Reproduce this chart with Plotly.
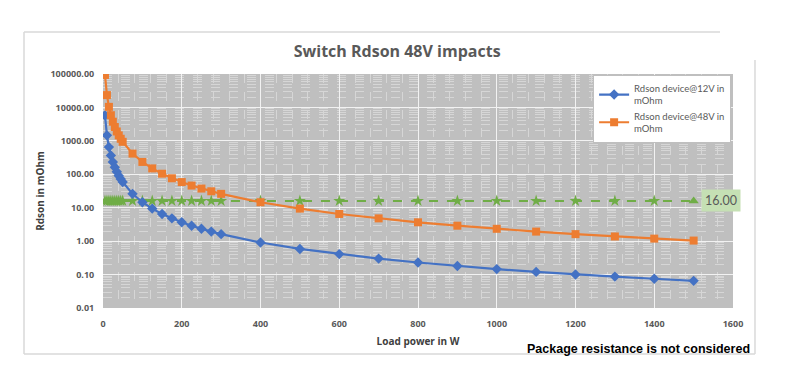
import math
import plotly.graph_objects as go

load_w = [5, 10, 15, 20, 25, 30, 35, 40, 45, 50, 75, 100, 125, 150, 175, 200, 225, 250,
          275, 300, 400, 500, 600, 700, 800, 900, 1000, 1100, 1200, 1300, 1400, 1500]
rdson_12v = [5800, 1460, 650, 366, 234, 162, 119, 91, 72, 58.5, 26, 14.6, 9.4, 6.5, 4.8,
             3.66, 2.9, 2.34, 1.93, 1.62, 0.91, 0.585, 0.41, 0.30, 0.23, 0.18, 0.146,
             0.12, 0.10, 0.087, 0.075, 0.065]
rdson_48v = [93600, 23400, 10400, 5850, 3740, 2600, 1910, 1460, 1155, 936, 416, 234, 150,
             104, 76, 58.5, 46, 37.4, 31, 26, 14.6, 9.4, 6.5, 4.8, 3.66, 2.9, 2.34, 1.93,
             1.62, 1.38, 1.19, 1.04]
limit_mohm = [16.0] * len(load_w)

fig = go.Figure()
fig.add_trace(go.Scatter(
    x=load_w, y=limit_mohm, mode="lines+markers", showlegend=False,
    line=dict(color="#70AD47", width=2, dash="dash"),
    marker=dict(symbol=["star"] * (len(load_w) - 1) + ["triangle-up"], size=9, color="#70AD47"),
))
fig.add_trace(go.Scatter(
    x=load_w, y=rdson_12v, mode="lines+markers", name="Rdson device@12V in<br>mOhm",
    line=dict(color="#4472C4", width=2.2),
    marker=dict(symbol="diamond", size=8, color="#4472C4"),
))
fig.add_trace(go.Scatter(
    x=load_w, y=rdson_48v, mode="lines+markers", name="Rdson device@48V in<br>mOhm",
    line=dict(color="#ED7D31", width=2.2),
    marker=dict(symbol="square", size=8, color="#ED7D31"),
))

fig.add_annotation(x=load_w[-1], y=math.log10(limit_mohm[-1]),
                   text="16.00", showarrow=False, xanchor="left", xshift=7,
                   bgcolor="#C5E0B4", font=dict(family="Lato", size=12.5, color="#595959"),
                   borderpad=3)
fig.add_annotation(x=1.030, y=-0.175, xref="paper", yref="paper", xanchor="right",
                   yanchor="middle", showarrow=False,
                   text="<b>Package resistance is not considered</b>",
                   font=dict(family="Liberation Sans", size=12.5, color="#000000"))

border = dict(color="#D9D9D9", width=1.5)
for x0, y0, x1, y1 in [(-0.1254, 1.1795, 0.9794, 1.1795), (-0.1254, 1.1795, -0.1254, -0.1966),
                       (-0.1254, -0.1966, 1.0349, -0.1966), (1.0349, 1.0598, 1.0349, -0.1966)]:
    fig.add_shape(type="line", xref="paper", yref="paper", x0=x0, y0=y0, x1=x1, y1=y1, line=border)

tick_font = dict(family="Open Sans", size=9, color="#595959", weight="bold")
fig.update_layout(
    width=791, height=388,
    margin=dict(l=95, r=66, t=66, b=88),
    paper_bgcolor="white", plot_bgcolor="#BFBFBF",
    title=dict(text="Switch Rdson 48V impacts", x=0.492, xanchor="center", y=0.888, yanchor="middle",
               font=dict(family="Open Sans", size=16, color="#595959", weight="bold")),
    legend=dict(x=0.997, xanchor="right", y=0.997, yanchor="top", bgcolor="white",
                bordercolor="#BFBFBF", borderwidth=1, tracegroupgap=0,
                font=dict(family="Lato", size=9.5, color="#595959")),
    xaxis=dict(range=[0, 1600], dtick=200, showgrid=True, gridcolor="#F2F2F2", gridwidth=1.2,
               zeroline=False, showline=False, tickfont=tick_font, ticks="outside", ticklen=7,
               tickcolor="rgba(0,0,0,0)",
               minor=dict(dtick=40, showgrid=True, gridcolor="#D6D6D6", griddash="dash", gridwidth=1),
               title=dict(text="Load power in W", standoff=9,
                          font=dict(family="Open Sans", size=10, color="#404040", weight="bold"))),
    yaxis=dict(type="log", range=[-2, 5], dtick=1, tickformat=".2f", showgrid=True,
               gridcolor="#F2F2F2", gridwidth=1.2, zeroline=False, showline=False,
               tickfont=tick_font, ticks="outside", ticklen=6, tickcolor="rgba(0,0,0,0)",
               minor=dict(dtick="D1", showgrid=True, gridcolor="#D6D6D6", griddash="dash", gridwidth=1),
               title=dict(text="Rdson in mOhm", standoff=3,
                          font=dict(family="Open Sans", size=10, color="#404040", weight="bold"))),
)
fig.write_html("out.html")
